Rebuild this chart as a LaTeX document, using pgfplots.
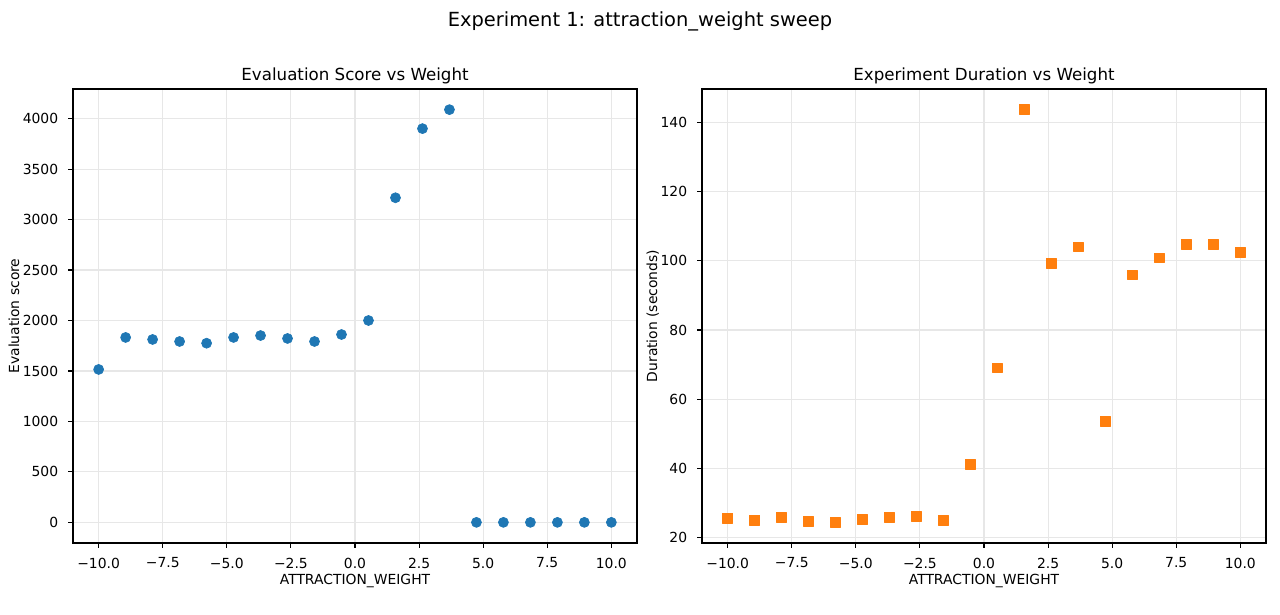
\documentclass[border=0pt]{standalone}
\usepackage{pgfplots}
\pgfplotsset{compat=1.18}
\usepackage{fontspec}
\setmainfont{DejaVu Sans}
\definecolor{mplblue}{RGB}{31,119,180}
\definecolor{mplorange}{RGB}{255,127,14}
\definecolor{gridgray}{RGB}{231,231,231}
\pgfplotsset{
  mpl/.style={
    scale only axis,
    width=406.08bp, height=326.88bp,
    anchor=south west,
    axis line style={black, line width=0.8bp},
    tick align=outside,
    xtick pos=bottom, ytick pos=left,
    major tick length=3.5bp,
    every tick/.style={black, line width=0.8bp},
    grid=major,
    major grid style={gridgray, line width=0.8bp},
    ticklabel style={font=\fontsize{10bp}{12bp}\selectfont},
    xticklabel style={anchor=north, inner sep=0pt, yshift=-7bp},
    yticklabel style={anchor=east, inner sep=0pt, xshift=-7bp},
    label style={font=\fontsize{10bp}{12bp}\selectfont, inner sep=0pt},
    xlabel style={at={([yshift=-30.2bp]axis description cs:0.5,0)}, anchor=base},
    title style={at={([yshift=0.3bp]axis description cs:0.5,1)}, anchor=base, inner sep=0pt, font=\fontsize{12bp}{14bp}\selectfont},
    xmin=-11, xmax=11,
    xtick={-10,-7.5,-5,-2.5,0,2.5,5,7.5,10},
    xticklabels={−10.0,−7.5,−5.0,−2.5,0.0,2.5,5.0,7.5,10.0},
    xlabel={ATTRACTION\_WEIGHT},
  }
}
\begin{document}
\begin{tikzpicture}
\path[use as bounding box] (0,0) rectangle (921.6bp,442.8bp);
\node[anchor=base, inner sep=0pt, font=\fontsize{14bp}{17bp}\selectfont] at (460.8bp,423.4bp) {Experiment 1: attraction\_weight sweep};
\begin{axis}[mpl,
  at={(52.56bp,51.84bp)},
  ymin=-204.45, ymax=4293.45,
  ytick={0,500,1000,1500,2000,2500,3000,3500,4000},
  yticklabels={0,500,1000,1500,2000,2500,3000,3500,4000},
  ylabel={Evaluation score},
  ylabel style={at={([xshift=-38.8bp]axis description cs:0,0.5)}, anchor=base, rotate=0},
  title={Evaluation Score vs Weight},
]
\addplot[only marks, mark=*, mark size=3.6bp, mark options={fill=mplblue, draw=mplblue, line width=0.5bp}] coordinates {
(-10,1515) (-8.947,1832) (-7.895,1812) (-6.842,1792) (-5.789,1775)
(-4.737,1832) (-3.684,1851) (-2.632,1822) (-1.579,1792) (-0.526,1861)
(0.526,2000) (1.579,3216) (2.632,3901) (3.684,4089) (4.737,0)
(5.789,0) (6.842,0) (7.895,0) (8.947,0) (10,0)
};
\end{axis}
\begin{axis}[mpl,
  at={(505.44bp,51.84bp)},
  ymin=18.325, ymax=149.775,
  ytick={20,40,60,80,100,120,140},
  yticklabels={20,40,60,80,100,120,140},
  ylabel={Duration (seconds)},
  ylabel style={at={([xshift=-32.4bp]axis description cs:0,0.5)}, anchor=base, rotate=0},
  title={Experiment Duration vs Weight},
]
\addplot[only marks, mark=square*, mark size=3.5bp, mark options={fill=mplorange, draw=mplorange, line width=0.5bp, line join=round}] coordinates {
(-10,25.5) (-8.947,24.9) (-7.895,25.8) (-6.842,24.6) (-5.789,24.3)
(-4.737,25.2) (-3.684,25.8) (-2.632,26.1) (-1.579,24.9) (-0.526,41.0)
(0.526,69.0) (1.579,143.8) (2.632,99.2) (3.684,104.1) (4.737,53.5)
(5.789,96.0) (6.842,100.9) (7.895,104.7) (8.947,104.7) (10,102.4)
};
\end{axis}
\end{tikzpicture}
\end{document}
